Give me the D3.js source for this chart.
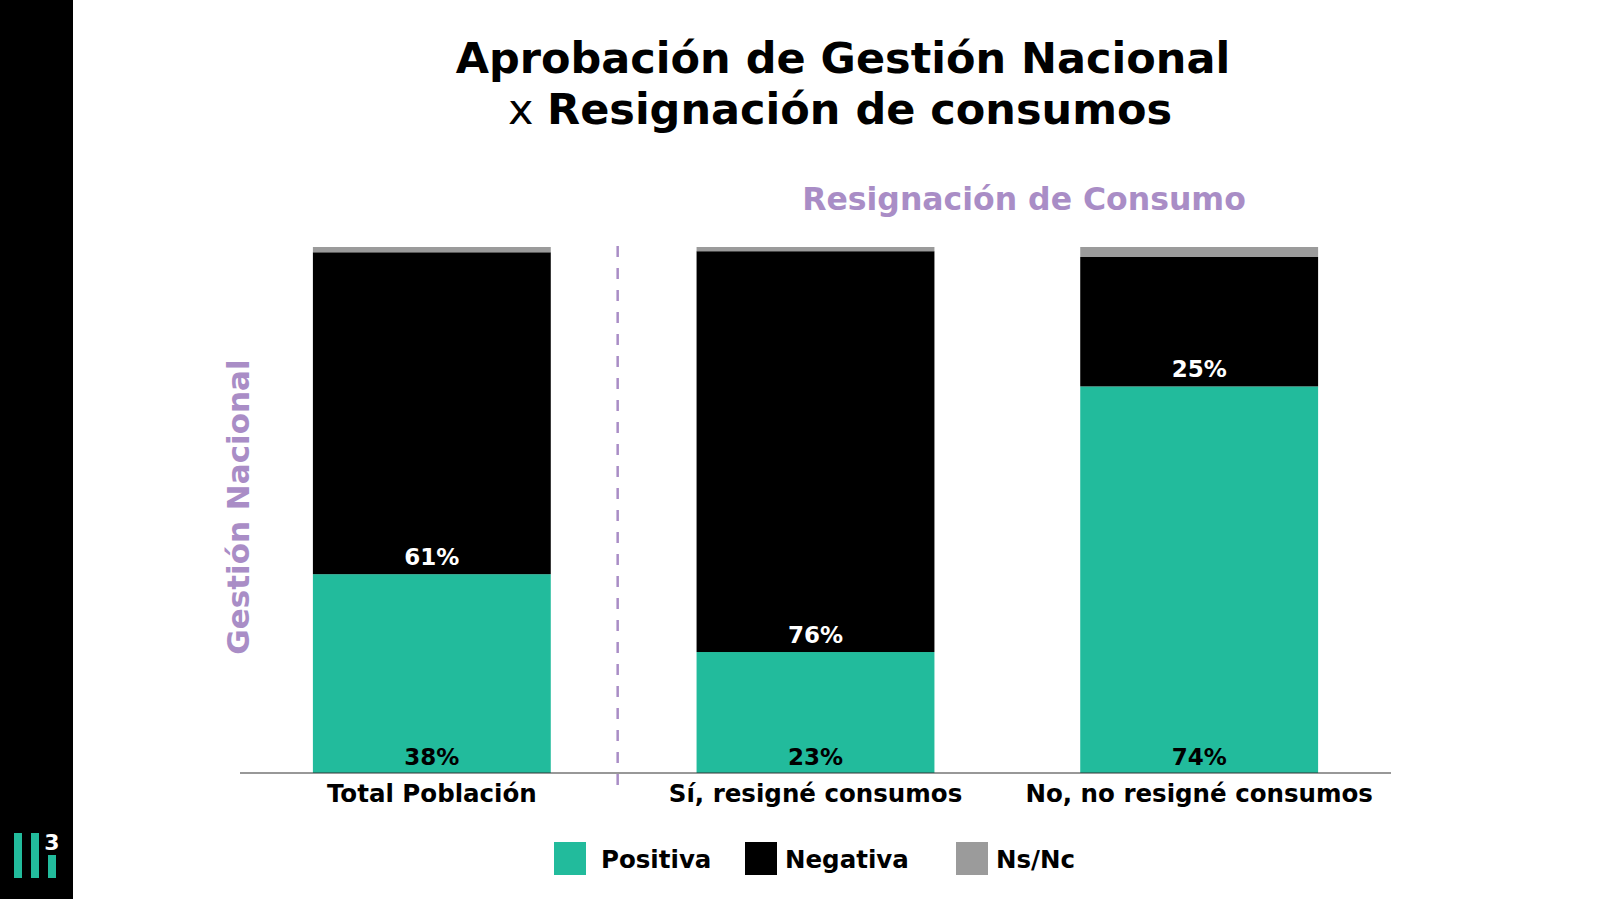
<!DOCTYPE html>
<html lang="es">
<head>
  <meta charset="UTF-8">
  <title>Aprobación de Gestión Nacional x Resignación de consumos</title>
  <style>
    body { margin: 0; background: #fff; }
    svg text { font-family: "DejaVu Sans", sans-serif; font-weight: bold; }
  </style>
  <script src="https://d3js.org/d3.v7.min.js"></script>
</head>
<body>
  <svg id="chart"></svg>
  <script>
    const categories = ["Total Población", "Sí, resigné consumos", "No, no resigné consumos"];
    const positiva = [37.8, 23.0, 73.5];
    const negativa = [61.2, 76.2, 24.6];
    const nsnc = [1.0, 0.8, 1.9];
    const seriesNames = ["Positiva", "Negativa", "Ns/Nc"];
    const seriesColors = ["#22bb9c", "#000000", "#9b9b9b"];
    const purple = "#a98dc6";

    const W = 1600, H = 899;
    const svg = d3.select("#chart").attr("width", W).attr("height", H);

    // left black band + logo
    svg.append("rect").attr("x", 0).attr("y", 0).attr("width", 73).attr("height", H).attr("fill", "#000");
    const logo = svg.append("g").attr("transform", "translate(14,833)");
    [[0, 0, 45], [17, 0, 45], [34, 22, 23]].forEach(([x, y, h]) => {
      logo.append("rect").attr("x", x).attr("y", y).attr("width", 8).attr("height", h).attr("fill", "#22bb9c");
    });
    logo.append("text").attr("x", 38).attr("y", 17).attr("text-anchor", "middle")
      .attr("fill", "#fff").attr("font-size", 22).text("3");

    // titles
    svg.append("text").attr("x", 843).attr("y", 73).attr("text-anchor", "middle")
      .attr("font-size", 43).text("Aprobación de Gestión Nacional");
    const t2 = svg.append("text").attr("x", 840).attr("y", 124).attr("text-anchor", "middle")
      .attr("font-size", 43);
    t2.append("tspan").attr("font-weight", "normal").text("x ");
    t2.append("tspan").text("Resignación de consumos");

    svg.append("text").attr("x", 1024).attr("y", 210).attr("text-anchor", "middle")
      .attr("font-size", 31.5).attr("fill", purple).text("Resignación de Consumo");

    svg.append("text").attr("transform", "translate(249,507) rotate(-90)").attr("text-anchor", "middle")
      .attr("font-size", 31).attr("fill", purple).text("Gestión Nacional");

    // scales
    const x = d3.scaleBand().domain(categories).range([240, 1391]).paddingInner(0.38).paddingOuter(0.19);
    const y = d3.scaleLinear().domain([0, 100]).range([773, 247]);

    const rows = categories.map((c, i) => ({ cat: c, Positiva: positiva[i], Negativa: negativa[i], "Ns/Nc": nsnc[i] }));
    const stack = d3.stack().keys(seriesNames)(rows);

    svg.selectAll(".layer").data(stack).enter().append("g")
      .attr("fill", (d, i) => seriesColors[i])
      .selectAll("rect").data(d => d).enter().append("rect")
      .attr("x", d => x(d.data.cat))
      .attr("width", x.bandwidth())
      .attr("y", d => y(d[1]))
      .attr("height", d => y(d[0]) - y(d[1]));

    // baseline axis
    const xAxis = svg.append("g").attr("transform", `translate(0,${y(0)})`)
      .call(d3.axisBottom(x).tickSize(0).tickPadding(12));
    xAxis.select(".domain").attr("stroke", "#333").attr("stroke-width", 1.2).attr("d", "M240,0H1391");
    xAxis.selectAll("text").attr("font-size", 24.5).attr("fill", "#000")
      .style("font-family", "'DejaVu Sans', sans-serif").style("font-weight", "bold");

    // divider
    const divX = (x(categories[0]) + x.bandwidth() + x(categories[1])) / 2 - 6;
    svg.append("line").attr("x1", divX).attr("x2", divX).attr("y1", 246).attr("y2", 792)
      .attr("stroke", purple).attr("stroke-width", 2.5).attr("stroke-dasharray", "11,11");

    const fmt = v => Math.round(v) + "%";
    const cx = c => x(c) + x.bandwidth() / 2;
    // positive labels at bottom
    svg.selectAll(".lblPos").data(rows).enter().append("text")
      .attr("x", d => cx(d.cat)).attr("y", y(0) - 8).attr("text-anchor", "middle")
      .attr("font-size", 23).attr("fill", "#000")
      .text(d => fmt(d.Positiva));
    // negative labels just above the boundary
    svg.selectAll(".lblNeg").data(rows).enter().append("text")
      .attr("x", d => cx(d.cat)).attr("y", d => y(d.Positiva) - 9).attr("text-anchor", "middle")
      .attr("font-size", 23).attr("fill", "#fff")
      .text(d => fmt(d.Negativa));

    // legend
    const legendX = [554, 745, 956];
    const lg = svg.selectAll(".lg").data(seriesNames).enter().append("g")
      .attr("transform", (d, i) => `translate(${legendX[i]},842)`);
    lg.append("rect").attr("width", 32).attr("height", 33).attr("fill", (d, i) => seriesColors[i]);
    lg.append("text").attr("x", (d, i) => i === 0 ? 47 : 40).attr("y", 26)
      .attr("font-size", 24.5).attr("fill", "#000").text(d => d);
  </script>
</body>
</html>
